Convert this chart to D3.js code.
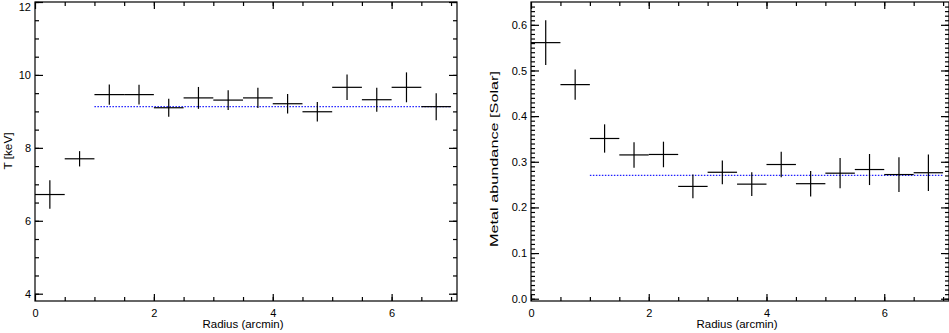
<!DOCTYPE html>
<html>
<head>
<meta charset="utf-8">
<script src="https://cdn.jsdelivr.net/npm/d3@7"></script>
<style>
  body { margin: 0; background: #fff; }
  svg { display: block; }
  text { font-family: "Liberation Sans", Arial, sans-serif; fill: #000; }
</style>
</head>
<body>
<svg id="chart" width="949" height="333"></svg>
<script>
// bin centres and half widths (arcmin)
const radius = [0.25, 0.75, 1.25, 1.75, 2.25, 2.75, 3.25, 3.75, 4.25, 4.75, 5.25, 5.75, 6.25, 6.75];
const radiusErr = [0.25, 0.25, 0.25, 0.25, 0.25, 0.25, 0.25, 0.25, 0.25, 0.25, 0.25, 0.25, 0.25, 0.25];

// temperature profile
const tempValues = [6.72, 7.70, 9.46, 9.46, 9.10, 9.37, 9.31, 9.37, 9.21, 8.99, 9.66, 9.32, 9.66, 9.13];
const tempErr = [0.39, 0.21, 0.28, 0.27, 0.25, 0.30, 0.27, 0.28, 0.27, 0.27, 0.35, 0.33, 0.41, 0.37];
const tempMean = 9.13;

// abundance profile
const abundValues = [0.561, 0.469, 0.351, 0.315, 0.316, 0.246, 0.277, 0.251, 0.294, 0.252, 0.275, 0.283, 0.272, 0.276];
const abundErr = [0.049, 0.033, 0.031, 0.028, 0.028, 0.026, 0.026, 0.026, 0.028, 0.028, 0.033, 0.034, 0.038, 0.040];
const abundMean = 0.270;

const meanRange = [1.0, 7.0];

// tick labels
const xTicks = [0, 2, 4, 6];
const tempTicks = [4, 6, 8, 10, 12];
const abundTicks = [0.0, 0.1, 0.2, 0.3, 0.4, 0.5, 0.6];

const svg = d3.select('#chart');

const panels = [
    {
        left: 35, right: 457, top: 2, bottom: 301,
        yDomain: [3.8, 12], values: tempValues, errs: tempErr, mean: tempMean,
        ticks: tempTicks, minor: d3.range(4, 12.01, 0.5), fmt: d3.format('d'),
        label: 'T [keV]', labelLen: 37, labelX: 8, labelY: 151
    },
    {
        left: 531, right: 949, top: 2, bottom: 301,
        yDomain: [-0.005, 0.65], values: abundValues, errs: abundErr, mean: abundMean,
        ticks: abundTicks, minor: d3.range(0, 0.645, 0.01), fmt: d3.format('.1f'),
        label: 'Metal abundance [Solar]', labelLen: 176, labelX: 494, labelY: 159
    }
];

panels.forEach(function(p) {
    const x = d3.scaleLinear().domain([0, 7.1]).range([p.left, p.right]);
    const y = d3.scaleLinear().domain(p.yDomain).range([p.bottom, p.top]);
    const g = svg.append('g');
    const xMinor = d3.range(0.5, 7.01, 0.5);

    // frame
    g.append('rect')
        .attr('x', p.left).attr('y', p.top)
        .attr('width', p.right - p.left).attr('height', p.bottom - p.top)
        .attr('fill', 'none').attr('stroke', '#000').attr('stroke-width', 1.2);

    // bottom axis (ticks inside)
    const xb = g.append('g')
        .attr('transform', 'translate(0,' + p.bottom + ')')
        .call(d3.axisBottom(x).tickValues(xTicks).tickSizeInner(-7).tickSizeOuter(0).tickPadding(8).tickFormat(d3.format('d')));
    xb.select('.domain').remove();
    xb.selectAll('text').style('font-size', '11px');
    g.append('g')
        .attr('transform', 'translate(0,' + p.bottom + ')')
        .call(d3.axisBottom(x).tickValues(xMinor).tickSizeInner(-4).tickSizeOuter(0).tickFormat(''))
        .select('.domain').remove();

    // top axis
    g.append('g')
        .attr('transform', 'translate(0,' + p.top + ')')
        .call(d3.axisTop(x).tickValues(xTicks).tickSizeInner(-7).tickSizeOuter(0).tickFormat(''))
        .select('.domain').remove();
    g.append('g')
        .attr('transform', 'translate(0,' + p.top + ')')
        .call(d3.axisTop(x).tickValues(xMinor).tickSizeInner(-4).tickSizeOuter(0).tickFormat(''))
        .select('.domain').remove();

    // left axis
    const yl = g.append('g')
        .attr('transform', 'translate(' + p.left + ',0)')
        .call(d3.axisLeft(y).tickValues(p.ticks).tickSizeInner(-8).tickSizeOuter(0).tickPadding(4).tickFormat(p.fmt));
    yl.select('.domain').remove();
    yl.selectAll('text').style('font-size', '11px');
    // keep the top label inside the page
    yl.selectAll('text').filter(function(d) { return y(d) - 5 < 0; }).attr('dy', '0.85em').attr('y', 0)
        .attr('transform', function(d) { return 'translate(0,' + (-y(d) + 1) + ')'; });
    g.append('g')
        .attr('transform', 'translate(' + p.left + ',0)')
        .call(d3.axisLeft(y).tickValues(p.minor).tickSizeInner(-4).tickSizeOuter(0).tickFormat(''))
        .select('.domain').remove();

    // right axis
    g.append('g')
        .attr('transform', 'translate(' + p.right + ',0)')
        .call(d3.axisRight(y).tickValues(p.ticks).tickSizeInner(-8).tickSizeOuter(0).tickFormat(''))
        .select('.domain').remove();
    g.append('g')
        .attr('transform', 'translate(' + p.right + ',0)')
        .call(d3.axisRight(y).tickValues(p.minor).tickSizeInner(-4).tickSizeOuter(0).tickFormat(''))
        .select('.domain').remove();

    g.selectAll('.tick line').attr('stroke', '#000').attr('stroke-width', 1.2);

    // mean value line
    g.append('line')
        .attr('x1', x(meanRange[0])).attr('x2', x(meanRange[1]))
        .attr('y1', y(p.mean)).attr('y2', y(p.mean))
        .attr('stroke', '#2020ff').attr('stroke-width', 1.2)
        .attr('stroke-dasharray', '1.5,1.5');

    // error crosses
    const pts = g.selectAll('.pt')
        .data(radius.map(function(r, i) {
            return {r: r, dr: radiusErr[i], v: p.values[i], dv: p.errs[i]};
        }))
        .enter().append('g').attr('class', 'pt');
    pts.append('line')
        .attr('x1', function(d) { return x(d.r - d.dr); })
        .attr('x2', function(d) { return x(d.r + d.dr); })
        .attr('y1', function(d) { return y(d.v); })
        .attr('y2', function(d) { return y(d.v); })
        .attr('stroke', '#000').attr('stroke-width', 1.2);
    pts.append('line')
        .attr('x1', function(d) { return x(d.r); })
        .attr('x2', function(d) { return x(d.r); })
        .attr('y1', function(d) { return y(d.v - d.dv); })
        .attr('y2', function(d) { return y(d.v + d.dv); })
        .attr('stroke', '#000').attr('stroke-width', 1.2);

    // axis titles
    g.append('text')
        .attr('x', (p.left + p.right) / 2 - 3).attr('y', 328)
        .attr('text-anchor', 'middle')
        .attr('textLength', 81).attr('lengthAdjust', 'spacingAndGlyphs')
        .style('font-size', '11px')
        .text('Radius (arcmin)');
    g.append('text')
        .attr('transform', 'translate(' + (p.labelX + 4) + ',' + p.labelY + ')rotate(-90)')
        .attr('text-anchor', 'middle')
        .attr('textLength', p.labelLen).attr('lengthAdjust', 'spacingAndGlyphs')
        .style('font-size', '11px')
        .text(p.label);
});
</script>
</body>
</html>
